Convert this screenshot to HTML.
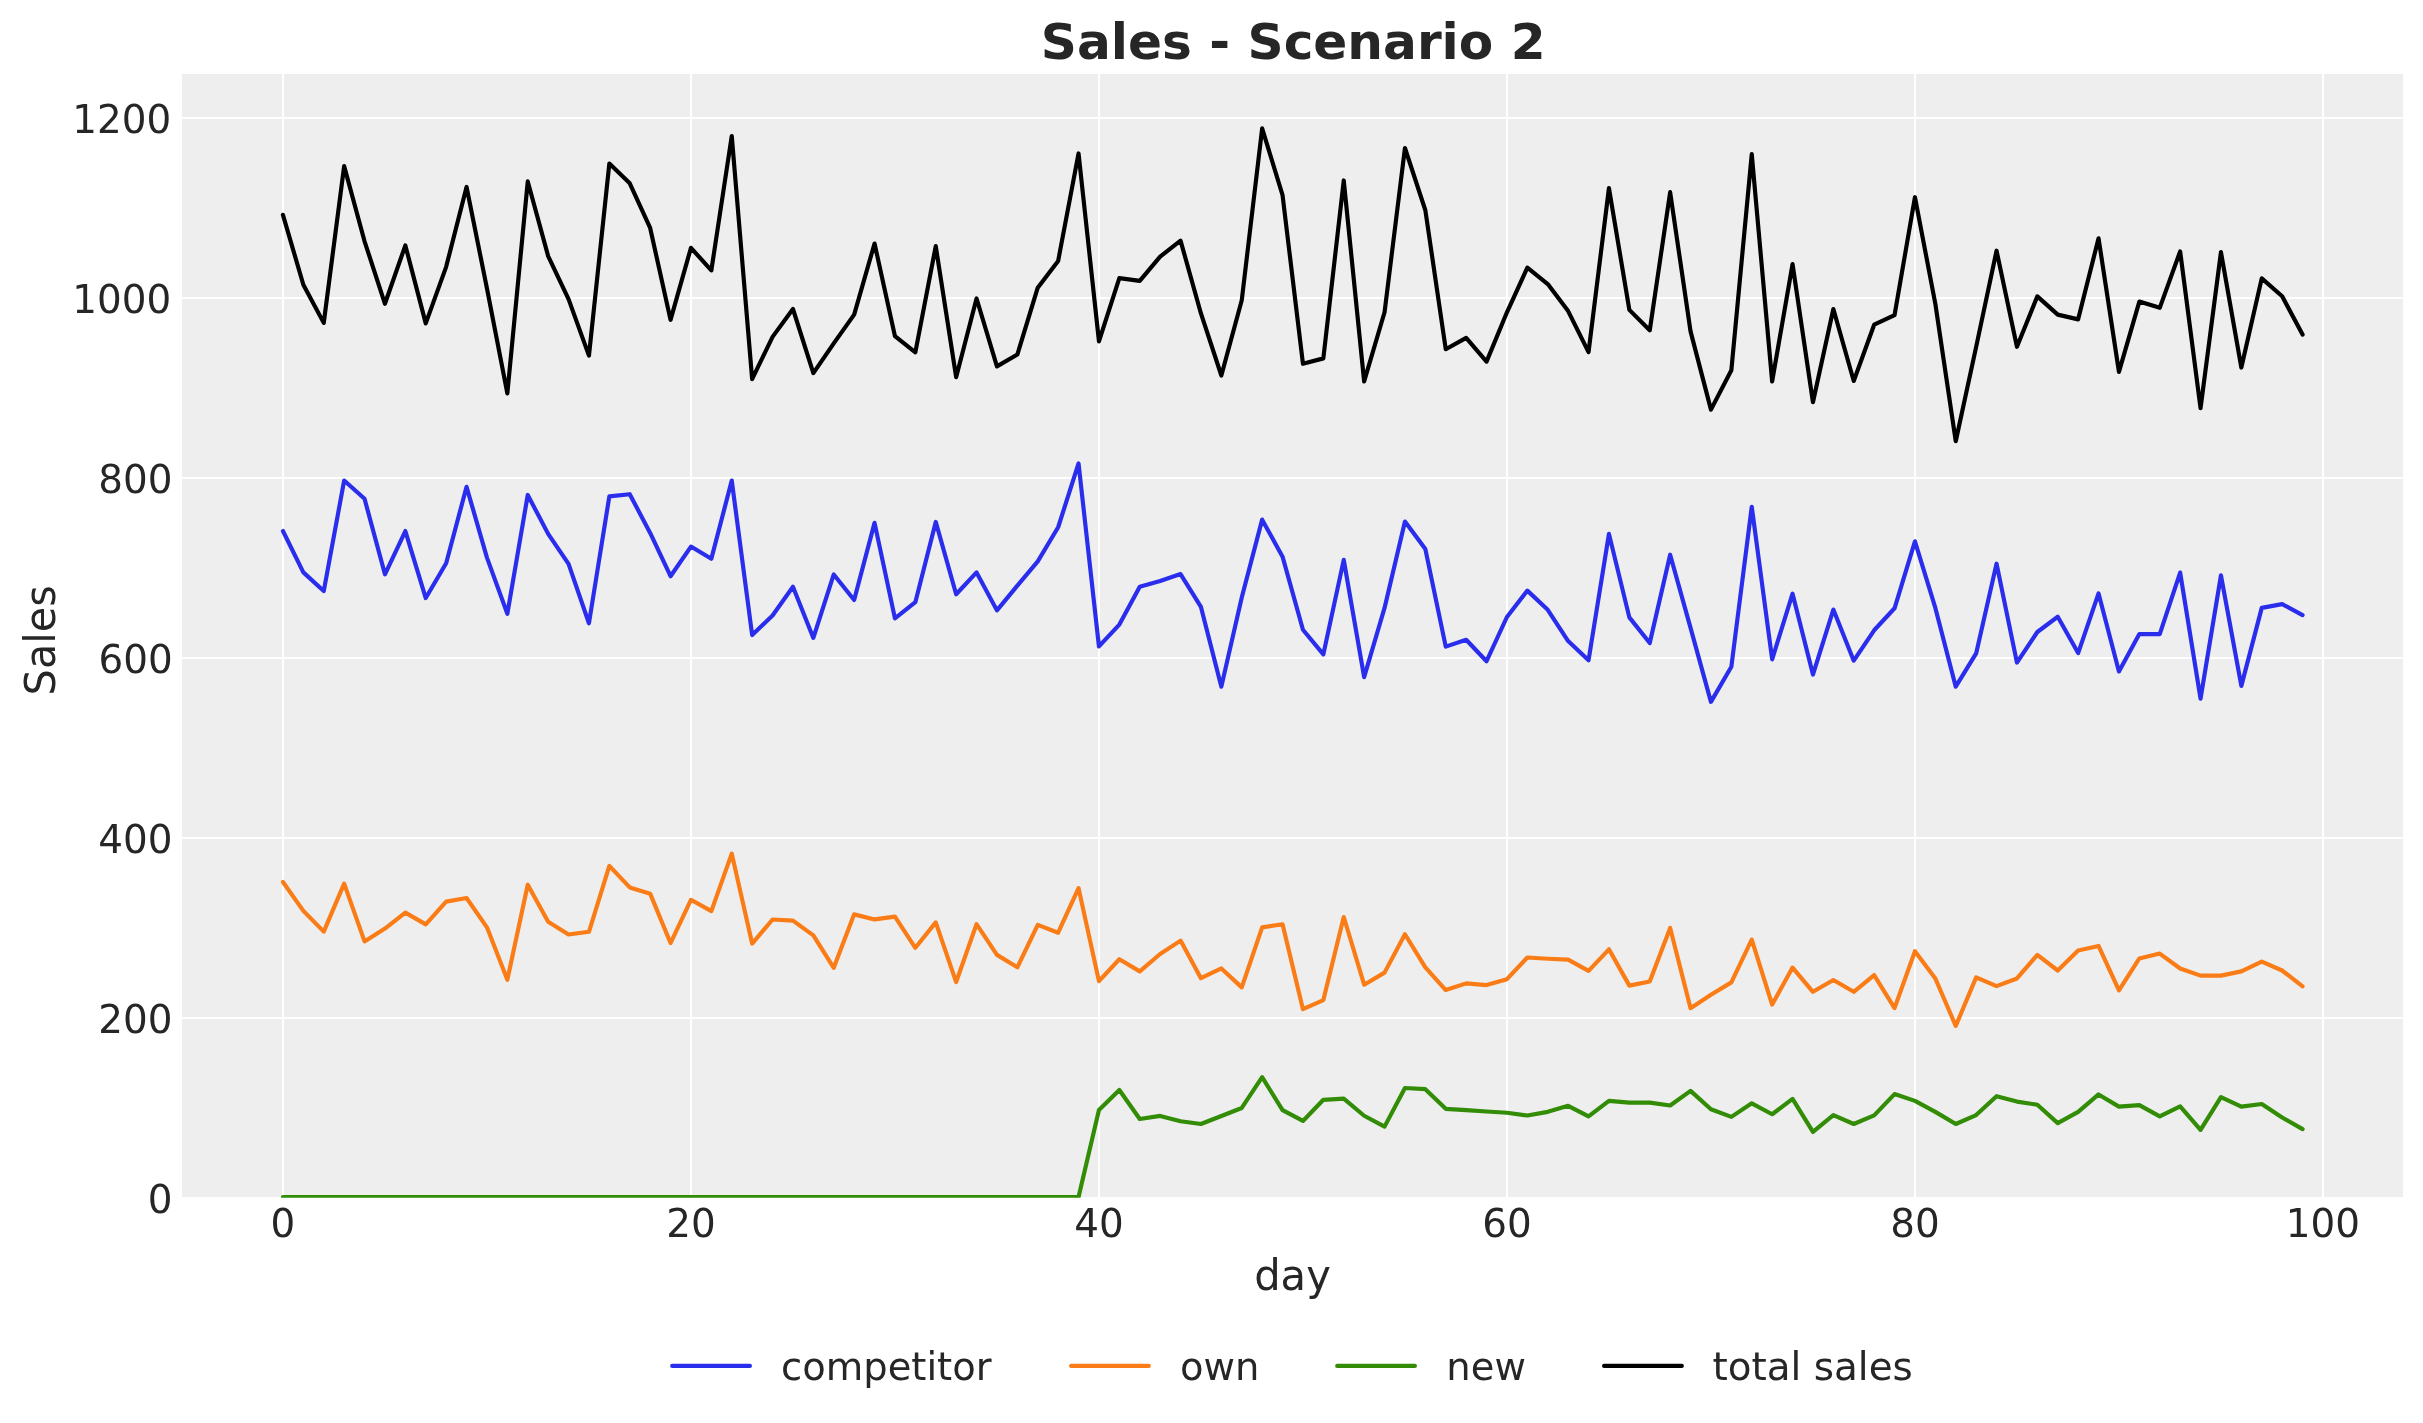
<!DOCTYPE html>
<html><head><meta charset="utf-8"><title>Sales - Scenario 2</title>
<style>
html,body{margin:0;padding:0;background:#ffffff;}
body{width:2423px;height:1423px;overflow:hidden;}
svg{display:block;will-change:transform;}
text{font-family:"DejaVu Sans","Liberation Sans",sans-serif;}
</style></head>
<body>
<svg width="2423" height="1423" viewBox="0 0 2423 1423">
<rect width="2423" height="1423" fill="#ffffff"/>
<rect x="182.0" y="74.0" width="2221.0" height="1123.0" fill="#eeeeee"/>
<g stroke="#ffffff" stroke-width="2.0"><line x1="283.00" y1="74.0" x2="283.00" y2="1197.0"/><line x1="691.00" y1="74.0" x2="691.00" y2="1197.0"/><line x1="1099.00" y1="74.0" x2="1099.00" y2="1197.0"/><line x1="1507.00" y1="74.0" x2="1507.00" y2="1197.0"/><line x1="1915.00" y1="74.0" x2="1915.00" y2="1197.0"/><line x1="2323.00" y1="74.0" x2="2323.00" y2="1197.0"/><line x1="182.0" y1="1018.00" x2="2403.0" y2="1018.00"/><line x1="182.0" y1="838.00" x2="2403.0" y2="838.00"/><line x1="182.0" y1="658.00" x2="2403.0" y2="658.00"/><line x1="182.0" y1="478.00" x2="2403.0" y2="478.00"/><line x1="182.0" y1="298.00" x2="2403.0" y2="298.00"/><line x1="182.0" y1="118.00" x2="2403.0" y2="118.00"/></g>
<defs><clipPath id="ax"><rect x="182" y="74" width="2221" height="1123.8"/></clipPath></defs>
<g clip-path="url(#ax)"><polyline points="282.95,531.02 303.35,572.41 323.75,591.03 344.15,480.55 364.55,498.79 384.95,574.33 405.35,531.02 425.75,598.05 446.15,563.30 466.55,486.81 486.95,557.61 507.35,613.80 527.75,494.97 548.15,533.89 568.55,563.87 588.95,623.29 609.35,496.32 629.75,494.21 650.15,532.94 670.55,576.23 690.95,546.58 711.35,558.77 731.75,480.55 752.15,635.05 772.55,615.49 792.95,586.81 813.35,637.90 833.75,574.48 854.15,599.95 874.55,522.87 894.95,618.35 915.35,602.20 935.75,521.92 956.15,594.25 976.55,572.39 996.95,610.38 1017.35,585.69 1037.75,561.41 1058.15,527.25 1078.55,463.47 1098.95,646.44 1119.35,624.59 1139.75,586.64 1160.15,580.95 1180.55,574.10 1200.95,606.95 1221.35,686.66 1241.75,597.46 1262.15,519.64 1282.55,556.66 1302.95,629.72 1323.35,654.41 1343.75,559.87 1364.15,677.18 1384.55,607.90 1404.95,521.54 1425.35,549.07 1445.75,646.63 1466.15,639.75 1486.55,661.24 1506.95,617.00 1527.35,590.61 1547.75,609.79 1568.15,641.10 1588.55,660.29 1608.95,533.87 1629.35,617.38 1649.75,643.02 1670.15,554.74 1690.55,627.82 1710.95,701.84 1731.35,666.72 1751.75,506.74 1772.15,659.34 1792.55,593.64 1812.95,674.52 1833.35,609.58 1853.75,660.67 1874.15,630.29 1894.55,608.27 1914.95,541.27 1935.35,607.90 1955.75,686.66 1976.15,653.44 1996.55,563.66 2016.95,662.56 2037.35,631.99 2057.75,616.79 2078.15,653.08 2098.55,593.45 2118.95,671.48 2139.35,634.08 2159.75,634.08 2180.15,572.58 2200.55,698.62 2220.95,575.43 2241.35,685.90 2261.75,607.90 2282.15,604.08 2302.55,615.13" fill="none" stroke="#2a2eec" stroke-width="4.17" stroke-linejoin="round" stroke-linecap="round"/><polyline points="282.95,882.06 303.35,910.85 323.75,931.66 344.15,883.66 364.55,941.42 384.95,928.60 405.35,912.58 425.75,924.38 446.15,901.62 466.55,898.03 486.95,927.36 507.35,979.75 527.75,884.72 548.15,921.68 568.55,934.50 588.95,931.79 609.35,865.91 629.75,887.43 650.15,893.64 670.55,943.02 690.95,899.80 711.35,911.08 731.75,853.66 752.15,943.55 772.55,919.50 792.95,920.61 813.35,935.34 833.75,967.86 854.15,914.36 874.55,919.42 894.95,916.66 915.35,947.81 935.75,922.34 956.15,982.06 976.55,924.12 996.95,954.86 1017.35,967.33 1037.75,924.83 1058.15,932.73 1078.55,888.09 1098.95,981.17 1119.35,959.25 1139.75,971.41 1160.15,953.98 1180.55,940.62 1200.95,978.16 1221.35,968.48 1241.75,987.38 1262.15,927.36 1282.55,924.29 1302.95,1009.21 1323.35,1000.12 1343.75,917.02 1364.15,984.72 1384.55,972.61 1404.95,934.23 1425.35,967.29 1445.75,990.05 1466.15,983.39 1486.55,985.08 1506.95,979.18 1527.35,957.48 1547.75,958.77 1568.15,959.65 1588.55,970.88 1608.95,949.32 1629.35,985.61 1649.75,981.48 1670.15,928.02 1690.55,1008.15 1710.95,994.79 1731.35,982.37 1751.75,939.56 1772.15,1004.60 1792.55,967.60 1812.95,991.82 1833.35,980.02 1853.75,991.82 1874.15,975.05 1894.55,1008.15 1914.95,951.27 1935.35,978.47 1955.75,1025.89 1976.15,977.36 1996.55,986.14 2016.95,978.47 2037.35,954.82 2057.75,970.52 2078.15,950.43 2098.55,945.94 2118.95,990.40 2139.35,958.41 2159.75,953.58 2180.15,968.53 2200.55,975.63 2220.95,975.63 2241.35,971.37 2261.75,961.56 2282.15,970.48 2302.55,986.32" fill="none" stroke="#fa7c17" stroke-width="4.17" stroke-linejoin="round" stroke-linecap="round"/><polyline points="282.95,1197.00 303.35,1197.00 323.75,1197.00 344.15,1197.00 364.55,1197.00 384.95,1197.00 405.35,1197.00 425.75,1197.00 446.15,1197.00 466.55,1197.00 486.95,1197.00 507.35,1197.00 527.75,1197.00 548.15,1197.00 568.55,1197.00 588.95,1197.00 609.35,1197.00 629.75,1197.00 650.15,1197.00 670.55,1197.00 690.95,1197.00 711.35,1197.00 731.75,1197.00 752.15,1197.00 772.55,1197.00 792.95,1197.00 813.35,1197.00 833.75,1197.00 854.15,1197.00 874.55,1197.00 894.95,1197.00 915.35,1197.00 935.75,1197.00 956.15,1197.00 976.55,1197.00 996.95,1197.00 1017.35,1197.00 1037.75,1197.00 1058.15,1197.00 1078.55,1197.00 1098.95,1110.09 1119.35,1089.99 1139.75,1119.01 1160.15,1115.90 1180.55,1121.27 1200.95,1123.98 1221.35,1115.95 1241.75,1107.96 1262.15,1077.21 1282.55,1110.09 1302.95,1120.96 1323.35,1099.80 1343.75,1098.69 1364.15,1115.77 1384.55,1126.64 1404.95,1088.04 1425.35,1089.15 1445.75,1108.85 1466.15,1110.09 1486.55,1111.51 1506.95,1112.75 1527.35,1115.46 1547.75,1111.86 1568.15,1105.79 1588.55,1116.35 1608.95,1100.82 1629.35,1102.64 1649.75,1102.64 1670.15,1105.52 1690.55,1090.88 1710.95,1109.20 1731.35,1116.88 1751.75,1103.30 1772.15,1114.22 1792.55,1098.86 1812.95,1131.96 1833.35,1115.19 1853.75,1123.98 1874.15,1115.41 1894.55,1094.07 1914.95,1100.86 1935.35,1111.86 1955.75,1123.98 1976.15,1115.06 1996.55,1096.20 2016.95,1101.57 2037.35,1104.77 2057.75,1123.09 2078.15,1111.86 2098.55,1094.43 2118.95,1106.59 2139.35,1105.08 2159.75,1116.35 2180.15,1106.32 2200.55,1129.83 2220.95,1097.09 2241.35,1106.59 2261.75,1104.01 2282.15,1117.54 2302.55,1129.12" fill="none" stroke="#328c06" stroke-width="4.17" stroke-linejoin="round" stroke-linecap="round"/><polyline points="282.95,214.85 303.35,284.75 323.75,322.89 344.15,166.13 364.55,241.28 384.95,303.78 405.35,245.42 425.75,323.36 446.15,266.84 466.55,186.90 486.95,288.37 507.35,393.41 527.75,181.43 548.15,256.12 568.55,299.12 588.95,355.66 609.35,163.51 629.75,183.26 650.15,227.93 670.55,319.83 690.95,247.84 711.35,270.38 731.75,136.04 752.15,379.08 772.55,336.87 792.95,309.00 813.35,373.10 833.75,343.32 854.15,314.65 874.55,243.54 894.95,336.15 915.35,352.32 935.75,246.17 956.15,377.16 976.55,298.49 996.95,366.41 1017.35,354.55 1037.75,287.66 1058.15,260.90 1078.55,153.48 1098.95,341.33 1119.35,278.18 1139.75,280.89 1160.15,256.60 1180.55,240.67 1200.95,313.46 1221.35,375.49 1241.75,300.32 1262.15,128.39 1282.55,195.21 1302.95,363.79 1323.35,358.37 1343.75,180.47 1364.15,381.46 1384.55,312.26 1404.95,147.98 1425.35,210.26 1445.75,349.21 1466.15,337.90 1486.55,361.64 1506.95,312.26 1527.35,267.67 1547.75,284.07 1568.15,311.07 1588.55,352.08 1608.95,188.12 1629.35,309.87 1649.75,330.34 1670.15,192.18 1690.55,331.37 1710.95,409.65 1731.35,370.31 1751.75,154.19 1772.15,381.46 1792.55,264.09 1812.95,402.25 1833.35,309.00 1853.75,380.99 1874.15,324.69 1894.55,315.13 1914.95,197.20 1935.35,303.90 1955.75,441.19 1976.15,346.90 1996.55,250.71 2016.95,346.82 2037.35,296.34 2057.75,314.65 2078.15,319.35 2098.55,238.28 2118.95,371.85 2139.35,301.55 2159.75,307.84 2180.15,251.39 2200.55,408.15 2220.95,252.11 2241.35,367.55 2261.75,278.38 2282.15,296.21 2302.55,334.59" fill="none" stroke="#000000" stroke-width="4.17" stroke-linejoin="round" stroke-linecap="round"/></g>
<g font-family="DejaVu Sans, sans-serif" font-size="38.89" fill="#262626"><text x="282.95" y="1236.8" text-anchor="middle">0</text><text x="690.95" y="1236.8" text-anchor="middle">20</text><text x="1098.95" y="1236.8" text-anchor="middle">40</text><text x="1506.95" y="1236.8" text-anchor="middle">60</text><text x="1914.95" y="1236.8" text-anchor="middle">80</text><text x="2322.95" y="1236.8" text-anchor="middle">100</text><text x="172.50" y="1212.80" text-anchor="end">0</text><text x="172.50" y="1032.86" text-anchor="end">200</text><text x="172.50" y="852.92" text-anchor="end">400</text><text x="172.80" y="672.98" text-anchor="end">600</text><text x="172.50" y="493.04" text-anchor="end">800</text><text x="171.30" y="313.10" text-anchor="end">1000</text><text x="171.30" y="133.16" text-anchor="end">1200</text></g>
<text transform="translate(1292.5,1290) scale(1,1.04)" text-anchor="middle" font-family="DejaVu Sans, sans-serif" font-size="41.67" fill="#262626">day</text>
<text transform="translate(54.9,640.3) rotate(-90) scale(0.994,1.03)" text-anchor="middle" font-family="DejaVu Sans, sans-serif" font-size="41.67" fill="#262626">Sales</text>
<text transform="translate(1293.2,58.9) scale(1.003,1)" text-anchor="middle" font-family="DejaVu Sans, sans-serif" font-weight="bold" font-size="50" fill="#262626">Sales - Scenario 2</text>
<g><line x1="672.2" y1="1365.9" x2="749.9" y2="1365.9" stroke="#2a2eec" stroke-width="4.17" stroke-linecap="round"/><text transform="translate(781.0,1380) scale(0.99,1)" font-family="DejaVu Sans, sans-serif" font-size="38.89" fill="#262626">competitor</text><line x1="1071.1" y1="1365.9" x2="1148.8" y2="1365.9" stroke="#fa7c17" stroke-width="4.17" stroke-linecap="round"/><text transform="translate(1179.9,1380) scale(0.99,1)" font-family="DejaVu Sans, sans-serif" font-size="38.89" fill="#262626">own</text><line x1="1337.2" y1="1365.9" x2="1414.9" y2="1365.9" stroke="#328c06" stroke-width="4.17" stroke-linecap="round"/><text transform="translate(1446.3,1380) scale(0.99,1)" font-family="DejaVu Sans, sans-serif" font-size="38.89" fill="#262626">new</text><line x1="1604.1" y1="1365.9" x2="1681.8" y2="1365.9" stroke="#000000" stroke-width="4.17" stroke-linecap="round"/><text transform="translate(1712.5,1380) scale(1.0,1)" font-family="DejaVu Sans, sans-serif" font-size="38.89" fill="#262626">total sales</text></g>
</svg>
</body></html>
